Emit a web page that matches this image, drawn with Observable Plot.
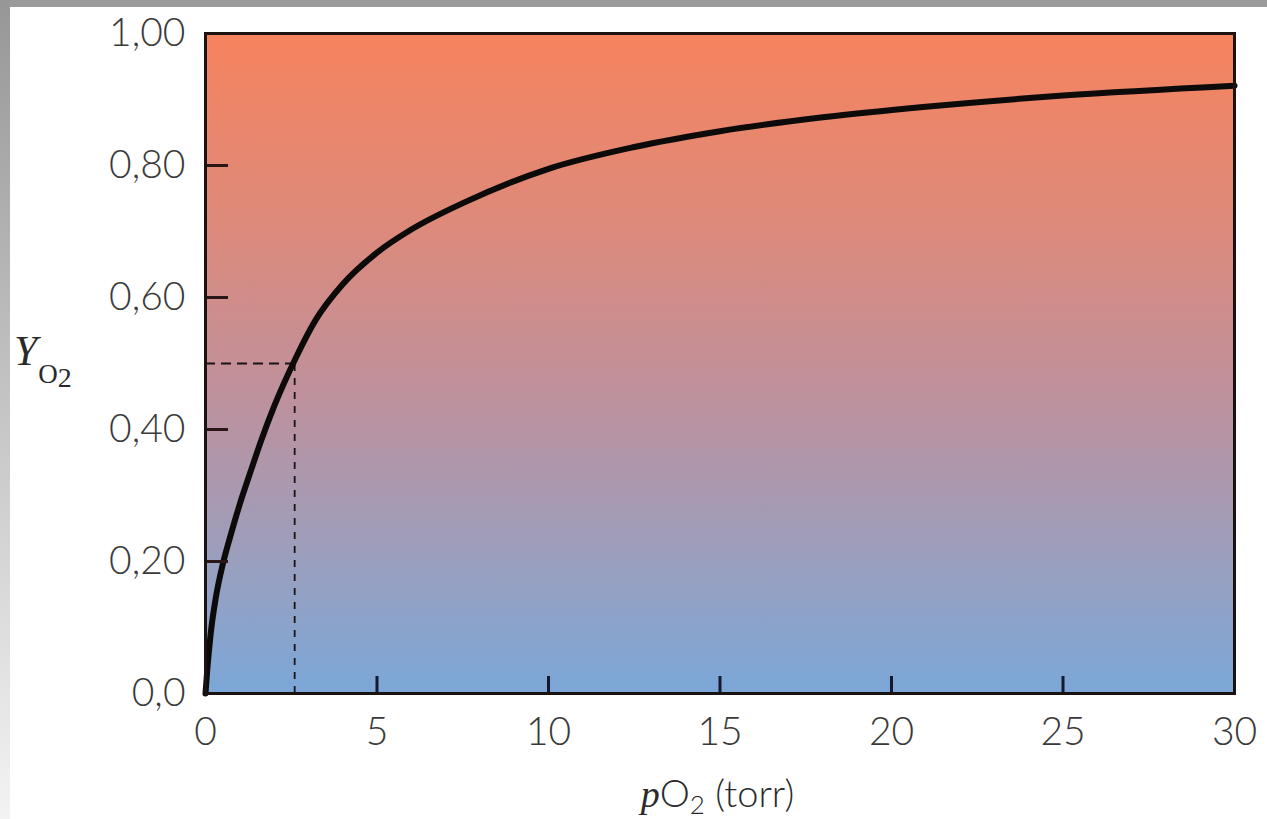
<!DOCTYPE html>
<html><head><meta charset="utf-8">
<script src="https://cdn.jsdelivr.net/npm/d3@7"></script>
<script src="https://cdn.jsdelivr.net/npm/@observablehq/plot@0.6"></script>
<style>
html,body{margin:0;padding:0;background:#fff;width:1267px;height:819px;overflow:hidden;}
#wrap{position:relative;width:1267px;height:819px;background:#fff;}
#top{position:absolute;left:0;top:0;width:1267px;height:7px;background:#9a9a9a;}
#left{position:absolute;left:0;top:0;width:10px;height:819px;background:linear-gradient(#979797,#f3f3f3);}
#chart{position:absolute;left:0;top:0;}
</style></head><body>
<div id="wrap"><div id="top"></div><div id="left"></div><div id="chart"></div></div>
<script>
// Myoglobin oxygen-binding curve
const pO2 = [0, 0.05, 0.15, 0.3, 0.5, 0.75, 1.0, 1.3, 1.6, 2.0, 2.6, 3.2, 4, 5, 6, 7.5, 10, 12.5, 15, 18, 21, 25, 30];
const saturation = [0, 0.035, 0.09, 0.145, 0.195, 0.243, 0.287, 0.334, 0.38, 0.435, 0.505, 0.565, 0.62, 0.668, 0.703, 0.743, 0.795, 0.828, 0.852, 0.873, 0.889, 0.906, 0.921];
const xTicks = [0, 5, 10, 15, 20, 25, 30];
const yTicks = [0, 0.2, 0.4, 0.6, 0.8, 1.0];
const yTickLabels = ["0,0", "0,20", "0,40", "0,60", "0,80", "1,00"];
const p50 = [2.6];
const halfSaturation = [0.5];

const data = pO2.map((x, i) => ({x, y: saturation[i]}));
const yLabelOf = new Map(yTicks.map((t, i) => [t, yTickLabels[i]]));

const W = 1267, H = 819;
const tickFont = "Lato, 'Open Sans', sans-serif";
const serif = "'Liberation Serif', 'DejaVu Serif', serif";

const gradientDefs = () => {
  const defs = d3.create("svg:defs");
  const g = defs.append("linearGradient").attr("id", "bgGrad")
    .attr("x1", 0).attr("y1", 0).attr("x2", 0).attr("y2", 1);
  [["0%", "#f6835e"], ["30%", "#dc8a7c"], ["55%", "#be919d"], ["80%", "#9a9fbe"], ["100%", "#7ba7d8"]]
    .forEach(([o, c]) => g.append("stop").attr("offset", o).attr("stop-color", c));
  return defs.node();
};

const axisLabels = (index, scales, values, dims) => {
  const g = d3.create("svg:g");
  const cx = (dims.marginLeft + dims.width - dims.marginRight) / 2;
  const xl = g.append("text").attr("x", cx - 2).attr("y", dims.height - 12)
    .attr("text-anchor", "middle").attr("fill", "#2a2a2a").attr("font-size", 38)
    .attr("font-weight", 300).attr("font-family", tickFont);
  xl.append("tspan").attr("font-family", serif).attr("font-style", "italic").attr("font-weight", 400).text("p");
  xl.append("tspan").text("O");
  xl.append("tspan").attr("font-size", 26).attr("dy", 7).text("2");
  xl.append("tspan").attr("dy", -7).text(" (torr)");

  const yl = g.append("text").attr("x", 14).attr("y", 365).attr("text-anchor", "start")
    .attr("fill", "#2a2a2a").attr("font-family", serif);
  yl.append("tspan").attr("font-style", "italic").attr("font-size", 42).text("Y");
  yl.append("tspan").attr("font-size", 27).attr("dx", 1).attr("dy", 18).text("O");
  yl.append("tspan").attr("font-size", 28).attr("dy", 4).text("2");
  return g.node();
};

const chart = Plot.plot({
  width: W,
  height: H,
  marginLeft: 205,
  marginRight: 33,
  marginTop: 33,
  marginBottom: 126,
  style: {background: "transparent", overflow: "visible"},
  x: {domain: [0, 30], label: null},
  y: {domain: [0, 1], label: null},
  marks: [
    gradientDefs,
    Plot.frame({fill: "url(#bgGrad)", stroke: null}),
    Plot.ruleY(halfSaturation, {x1: 0, x2: p50[0], stroke: "#1a1414", strokeWidth: 2, strokeDasharray: "10,6"}),
    Plot.ruleX(p50, {y1: 0, y2: halfSaturation[0], stroke: "#1a1414", strokeWidth: 1.8, strokeDasharray: "7,7"}),
    Plot.line(data, {x: "x", y: "y", curve: "monotone-x", stroke: "#0d0a0a", strokeWidth: 6}),
    Plot.axisY(yTicks, {anchor: "left", tickSize: -23, text: null, stroke: "#2a1616", strokeWidth: 3}),
    Plot.axisY(yTicks, {anchor: "left", tickSize: 0, tickPadding: 20, tickFormat: d => yLabelOf.get(d),
      fontSize: 39, fontFamily: tickFont, fontWeight: 300, fill: "#3a3a3a"}),
    Plot.axisX(xTicks, {anchor: "bottom", tickSize: -17, text: null, stroke: "#14182a", strokeWidth: 3}),
    Plot.axisX(xTicks, {anchor: "bottom", tickSize: 0, tickPadding: 24, fontSize: 39, fontFamily: tickFont, fontWeight: 300, fill: "#3a3a3a"}),
    Plot.frame({stroke: "#1b1212", strokeWidth: 3}),
    axisLabels
  ]
});
document.getElementById("chart").appendChild(chart);
</script>
</body></html>
